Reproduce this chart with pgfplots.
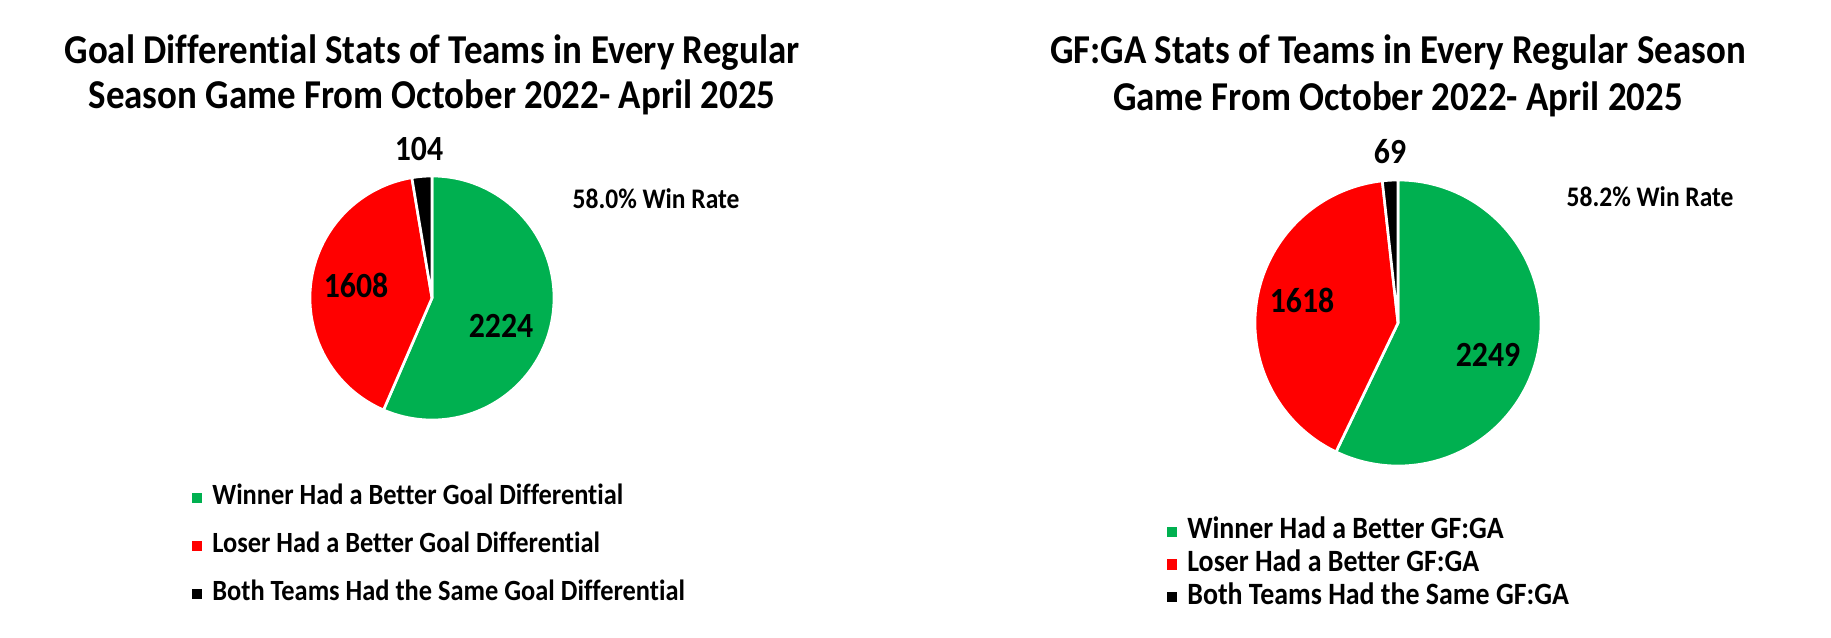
\documentclass[border=0pt]{standalone}
\usepackage{pgfplots}
\usepackage{pgfplotstable}
\pgfplotsset{compat=1.18}
\usepackage{fontspec}
\newfontfamily\chartfont{Carlito}[FakeStretch=0.9, Ligatures=NoCommon]

\definecolor{gwin}{HTML}{00B050}
\definecolor{glose}{HTML}{FF0000}
\definecolor{gsame}{HTML}{000000}

% counts: winner better, loser better, same
\pgfplotstableread{
count
2224
1608
104
}\gdtable
\pgfplotstableread{
count
2249
1618
69
}\gfgatable

% cx cy (axis px) R (pt) start end colour
\newcommand\pieslice[6]{%
  \fill[#6, draw=white, line width=0.8pt, line join=round]
    (axis cs:#1,#2) -- ++(#4:#3) arc[start angle=#4, end angle=#5, radius=#3] -- cycle;}

% angles from a table: \pieangles{table}{prefix}
\newcommand\pieangles[2]{%
  \pgfplotstablegetelem{0}{count}\of#1\let\va\pgfplotsretval
  \pgfplotstablegetelem{1}{count}\of#1\let\vb\pgfplotsretval
  \pgfplotstablegetelem{2}{count}\of#1\let\vc\pgfplotsretval
  \pgfmathsetmacro\tot{(\va+\vb+\vc)/100}%
  \pgfmathsetmacro\aA{90-3.6*(\va/\tot)}%
  \pgfmathsetmacro\aB{\aA-3.6*(\vb/\tot)}%
  \expandafter\let\csname #2A\endcsname\aA
  \expandafter\let\csname #2B\endcsname\aB}

\pgfplotsset{
  chartbase/.style={
    hide axis, x=0.3pt, y=0.3pt,
    xmin=0, xmax=1831, ymin=0, ymax=637, y dir=reverse,
    clip=false,
    legend cell align=left,
    legend image code/.code={%
      \path[draw=none, fill=none] (0pt,0pt) rectangle (6.1pt,0pt);
      \fill[##1, draw=none] (0pt,0.5pt) rectangle (3.1pt,3.6pt);},
    legend style={draw=none, fill=none, inner sep=0pt, outer sep=0pt,
      anchor=north west,
      nodes={inner sep=0pt, text height=5.3pt, text depth=0pt, anchor=base west}},
  },
}
\tikzset{
  ttl/.style={font=\chartfont\bfseries\fontsize{12.3}{14}\selectfont, anchor=base, inner sep=0pt},
  lbl/.style={font=\chartfont\bfseries\fontsize{10.6}{12}\selectfont, anchor=base, inner sep=0pt},
  wr/.style={font=\chartfont\bfseries\fontsize{8.5}{10}\selectfont, anchor=base west, inner sep=0pt},
}

\begin{document}
\begin{tikzpicture}
\pieangles{\gdtable}{gd}
\pieangles{\gfgatable}{gf}

% left chart: goal differential
\begin{axis}[chartbase,
  legend style={at={(axis cs:192,487)}, row sep=9.1pt,
    font=\chartfont\bfseries\fontsize{8.8}{10}\selectfont}]
\path (axis cs:0,0) rectangle (axis cs:1831,637);
\addlegendimage{fill=gwin, draw=none}
\addlegendentry{Winner Had a Better Goal Differential}
\addlegendimage{fill=glose, draw=none}
\addlegendentry{Loser Had a Better Goal Differential}
\addlegendimage{fill=gsame, draw=none}
\addlegendentry{Both Teams Had the Same Goal Differential}

\pieslice{432}{298}{36.6pt}{90}{\gdA}{gwin}
\pieslice{432}{298}{36.6pt}{\gdA}{\gdB}{glose}
\pieslice{432}{298}{36.6pt}{\gdB}{-270}{gsame}

\node[ttl] at (axis cs:432,63) {Goal Differential Stats of Teams in Every Regular};
\node[ttl] at (axis cs:432,108) {Season Game From October 2022- April 2025};
\node[lbl] at (axis cs:419,160) {104};
\node[lbl] at (axis cs:356,297) {1608};
\node[lbl] at (axis cs:501,337) {2224};
\node[wr] at (axis cs:572,208) {58.0\% Win Rate};
\end{axis}

% right chart: GF:GA
\begin{axis}[chartbase,
  legend style={at={(axis cs:1167,521)}, row sep=4.5pt,
    font=\chartfont\bfseries\fontsize{9.3}{10}\selectfont}]
\addlegendimage{fill=gwin, draw=none}
\addlegendentry{Winner Had a Better GF:GA}
\addlegendimage{fill=glose, draw=none}
\addlegendentry{Loser Had a Better GF:GA}
\addlegendimage{fill=gsame, draw=none}
\addlegendentry{Both Teams Had the Same GF:GA}

\pieslice{1398}{323}{42.9pt}{90}{\gfA}{gwin}
\pieslice{1398}{323}{42.9pt}{\gfA}{\gfB}{glose}
\pieslice{1398}{323}{42.9pt}{\gfB}{-270}{gsame}

\node[ttl] at (axis cs:1398,63) {GF:GA Stats of Teams in Every Regular Season};
\node[ttl] at (axis cs:1398,110) {Game From October 2022- April 2025};
\node[lbl] at (axis cs:1390,163) {69};
\node[lbl] at (axis cs:1302,312) {1618};
\node[lbl] at (axis cs:1488,366) {2249};
\node[wr] at (axis cs:1566,206) {58.2\% Win Rate};
\end{axis}
\end{tikzpicture}
\end{document}
